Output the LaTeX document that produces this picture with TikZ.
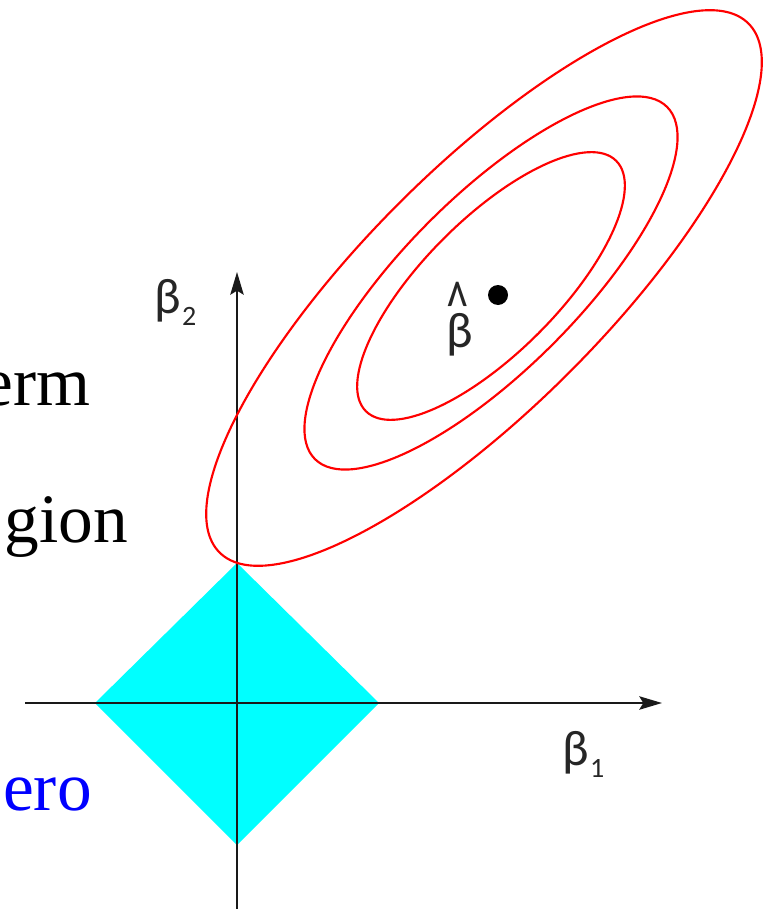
\documentclass[tikz,border=0pt]{standalone}
\usepackage{fontspec}
\usepackage{graphicx}
\setmainfont{Liberation Serif}
\newfontfamily\calib{Carlito}
\newcommand\subfnt{\calib\fontsize{21}{23}\selectfont}
\definecolor{aqua}{RGB}{0,255,255}
\definecolor{cred}{RGB}{255,0,0}
\usetikzlibrary{arrows.meta}
\begin{document}
\begin{tikzpicture}[x=0.75pt,y=-0.75pt,
  axis/.style={line width=1.7pt, draw=black!90, -{Stealth[length=17pt,width=10pt,inset=3pt]}},
  contour/.style={draw=cred, line width=1.6pt},
  word/.style={font=\fontsize{52}{60}\selectfont, inner sep=0pt, anchor=base east},
  glabel/.style={font=\calib\fontsize{37.5}{40}\selectfont, inner sep=0pt, anchor=base west, text=black!85},
]
\useasboundingbox (0,0) rectangle (763,909);
\clip (0,0) rectangle (763,909);

% constraint region
\coordinate (o) at (237,703);
\coordinate (dt) at (237,563);
\coordinate (dr) at (379,703);
\coordinate (db) at (237,845);
\coordinate (dl) at (95,703);
\fill[aqua] (dt) -- (dr) -- (db) -- (dl) -- cycle;

% axes
\coordinate (xs) at (25,703);
\coordinate (xe) at (662,703);
\coordinate (ys) at (237,909);
\coordinate (ye) at (237,272);
\draw[axis] (xs) -- (xe);
\draw[axis] (ys) -- (ye);

% contours
\coordinate (c1) at (484,288);
\coordinate (c2) at (491,283);
\coordinate (c3) at (491,286);
\draw[contour, rotate around={45:(c1)}] (c1) ellipse [x radius=374, y radius=120];
\draw[contour, rotate around={45:(c2)}] (c2) ellipse [x radius=249, y radius=87];
\draw[contour, rotate around={45:(c3)}] (c3) ellipse [x radius=177, y radius=67];

% estimate
\fill[black] (498,295) circle [radius=10];
\node[glabel] (bhat) at (446,347) {\makebox[0pt][l]{\raisebox{13pt}{\scalebox{0.9}[1.4]{\textasciicircum}}}β};

% axis labels
\node[glabel] (b2) at (154,313) {β\kern1pt\raisebox{-9pt}{\subfnt 2}};
\node[glabel] (b1) at (562,765) {β\kern1pt\raisebox{-9pt}{\subfnt 1}};

% cropped slide text
\node[word] (t1) at (91,405) {erm};
\node[word] (t2) at (128,542) {gion};
\node[word, text=blue] (t3) at (92,810) {ero};
\end{tikzpicture}
\end{document}
